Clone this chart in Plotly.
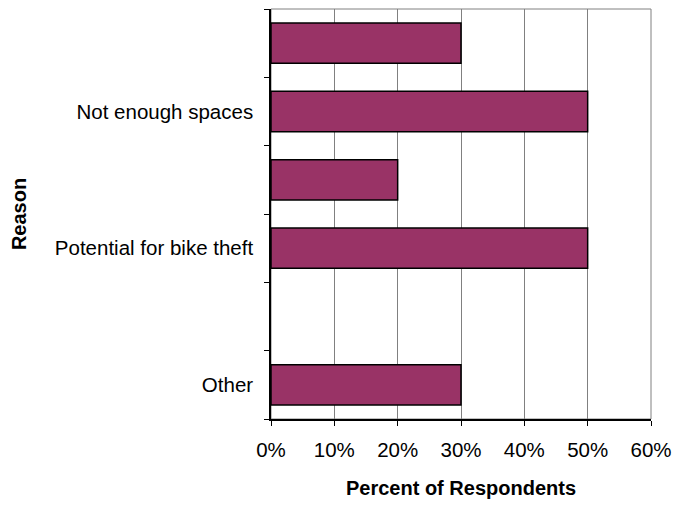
import plotly.graph_objects as go

# Survey responses: share of respondents citing each reason (top to bottom)
categories = ["Reason A", "Not enough spaces", "Reason B",
              "Potential for bike theft", "Reason C", "Other"]
tick_labels = ["", "Not enough spaces", "", "Potential for bike theft", "", "Other"]
percent = [0.30, 0.50, 0.20, 0.50, 0.00, 0.30]

x_ticks = [0, 0.1, 0.2, 0.3, 0.4, 0.5, 0.6]

font_family = "Liberation Sans, Arial, sans-serif"

# Empty bars get no outline so nothing is drawn for them
outline_widths = [1.5 if v > 0 else 0 for v in percent]

fig = go.Figure(
    go.Bar(
        x=percent,
        y=categories,
        orientation="h",
        width=0.59,
        marker=dict(color="#993366",
                    line=dict(color="#000000", width=outline_widths)),
        hoverinfo="x+y",
    )
)

fig.update_layout(
    width=681,
    height=506,
    margin=dict(l=271, r=24, t=9, b=87),
    paper_bgcolor="#ffffff",
    plot_bgcolor="#ffffff",
    showlegend=False,
    font=dict(family=font_family, size=20.5, color="#000000"),
    bargap=0.41,
)

fig.update_xaxes(
    range=[0, 0.6],
    tickvals=x_ticks,
    tickformat=".0%",
    showgrid=True,
    gridcolor="#808080",
    gridwidth=1,
    zeroline=False,
    showline=True,
    linecolor="#000000",
    linewidth=1.5,
    ticks="outside",
    ticklen=5,
    tickcolor="#000000",
    ticklabelstandoff=7,
    title=dict(text="<b>Percent of Respondents</b>",
               font=dict(size=20), standoff=21),
)

fig.update_yaxes(
    type="category",
    categoryorder="array",
    categoryarray=categories,
    autorange="reversed",
    tickmode="array",
    tickvals=categories,
    ticktext=tick_labels,
    tickson="boundaries",
    showgrid=False,
    zeroline=False,
    showline=True,
    linecolor="#000000",
    linewidth=1.5,
    ticks="outside",
    ticklen=5,
    tickcolor="#000000",
    ticklabelstandoff=12,
    title=dict(text="<b>Reason</b>", font=dict(size=20), standoff=23),
)

# Plot-area border along the top and right edges
fig.add_shape(
    type="rect", xref="paper", yref="paper",
    x0=0, x1=1, y0=0, y1=1,
    line=dict(color="#808080", width=1),
    layer="below",
)

fig.write_html("out.html")
